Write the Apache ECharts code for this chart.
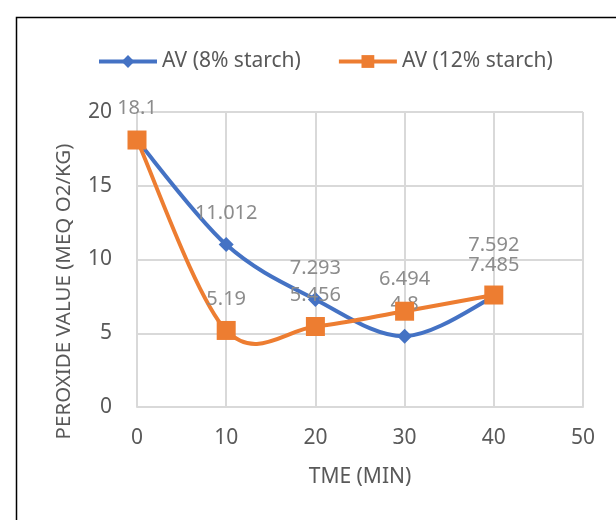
<!DOCTYPE html>
<html>
<head>
<meta charset="utf-8">
<script src="https://cdn.jsdelivr.net/npm/echarts@6/dist/echarts.min.js"></script>
<style>
  html, body { margin: 0; padding: 0; background: #fff; }
  #chart { width: 616px; height: 520px; }
</style>
</head>
<body>
<div id="chart"></div>
<script>
// Peroxide value over time for two starch levels
const times = [0, 10, 20, 30, 40];
const av8 = [18.1, 11.012, 7.293, 4.8, 7.485];
const av12 = [18.1, 5.19, 5.456, 6.494, 7.592];
const seriesNames = ['AV (8% starch)', 'AV (12% starch)'];
const xTicks = [0, 10, 20, 30, 40, 50];
const yTicks = [0, 5, 10, 15, 20];

const FONT = '"Noto Sans", "Open Sans", sans-serif';
const textColor = '#595959';
const labelColor = '#8c8c8c';
const gridColor = '#d9d9d9';
const BLUE = '#4472C4';
const ORANGE = '#ED7D31';

// Cardinal-spline segment between point i and i+1 (office-style smoothing)
function splineSeries(vals, color, z) {
  const n = vals.length;
  const clamp = k => Math.max(0, Math.min(n - 1, k));
  return {
    type: 'custom',
    name: '',
    coordinateSystem: 'cartesian2d',
    data: times.map((t, i) => [t, vals[i]]),
    silent: true,
    z: z,
    renderItem(params, api) {
      const i = params.dataIndex;
      if (i >= n - 1) return null;
      const P = k => api.coord([times[clamp(k)], vals[clamp(k)]]);
      const p0 = P(i - 1), p1 = P(i), p2 = P(i + 1), p3 = P(i + 2);
      const t = 1 / 6;
      return {
        type: 'bezierCurve',
        shape: {
          x1: p1[0], y1: p1[1], x2: p2[0], y2: p2[1],
          cpx1: p1[0] + (p2[0] - p0[0]) * t, cpy1: p1[1] + (p2[1] - p0[1]) * t,
          cpx2: p2[0] - (p3[0] - p1[0]) * t, cpy2: p2[1] - (p3[1] - p1[1]) * t
        },
        style: { stroke: color, lineWidth: 4, fill: null, lineCap: 'round' }
      };
    }
  };
}

function points(vals, overrides) {
  return vals.map((v, i) => {
    const item = { value: [times[i], v] };
    if (overrides[i]) Object.assign(item, overrides[i]);
    return item;
  });
}

const chart = echarts.init(document.getElementById('chart'), null, { renderer: 'canvas' });
chart.setOption({
  animation: false,
  backgroundColor: '#fff',
  textStyle: { fontFamily: FONT },
  graphic: [{
    type: 'rect',
    shape: { x: 16.5, y: 17.5, width: 640, height: 540 },
    style: { fill: 'none', stroke: '#000', lineWidth: 1.5 },
    silent: true
  }],
  legend: {
    left: 92, top: 46,
    itemWidth: 58, itemHeight: 16, itemGap: 36,
    lineStyle: { opacity: 1, width: 4 },
    textStyle: { fontFamily: FONT, fontSize: 21, color: textColor },
    data: seriesNames
  },
  grid: { left: 137, right: 33, top: 112, bottom: 113 },
  xAxis: {
    type: 'value', min: xTicks[0], max: xTicks[xTicks.length - 1], interval: 10,
    name: 'TME (MIN)', nameLocation: 'middle', nameGap: 60,
    nameTextStyle: { fontFamily: FONT, fontSize: 21, color: textColor },
    axisLine: { show: true, lineStyle: { color: gridColor, width: 2 } },
    axisTick: { show: false },
    axisLabel: { fontFamily: FONT, fontSize: 21, color: textColor, margin: 21 },
    splitLine: { show: true, lineStyle: { color: gridColor, width: 2 } }
  },
  yAxis: {
    type: 'value', min: yTicks[0], max: yTicks[yTicks.length - 1], interval: 5,
    name: 'PEROXIDE VALUE (MEQ O2/KG)', nameLocation: 'middle', nameGap: 62,
    nameRotate: 90,
    nameTextStyle: { fontFamily: FONT, fontSize: 20.5, color: textColor, padding: [0, 64, 0, 0] },
    axisLine: { show: false },
    axisTick: { show: false },
    axisLabel: { fontFamily: FONT, fontSize: 21, color: textColor, margin: 25 },
    splitLine: { show: true, lineStyle: { color: gridColor, width: 2 } }
  },
  series: [
    splineSeries(av8, BLUE, 1),
    splineSeries(av12, ORANGE, 1),
    {
      name: seriesNames[0], type: 'line',
      data: points(av8, { 0: { label: { show: false } } }),
      symbol: 'diamond', symbolSize: 15, showSymbol: true,
      itemStyle: { color: BLUE },
      lineStyle: { color: BLUE, width: 4, opacity: 0 },
      label: { show: true, position: 'top', distance: 14, fontFamily: FONT, fontSize: 20, color: labelColor,
        formatter: p => String(p.value[1]) },
      z: 3
    },
    {
      name: seriesNames[1], type: 'line',
      data: points(av12, { 4: { label: { distance: 30 } } }),
      symbol: 'rect', symbolSize: 19, showSymbol: true,
      itemStyle: { color: ORANGE },
      lineStyle: { color: ORANGE, width: 4, opacity: 0 },
      label: { show: true, position: 'top', distance: 12, fontFamily: FONT, fontSize: 20, color: labelColor,
        formatter: p => String(p.value[1]) },
      z: 4
    }
  ]
});
</script>
</body>
</html>
